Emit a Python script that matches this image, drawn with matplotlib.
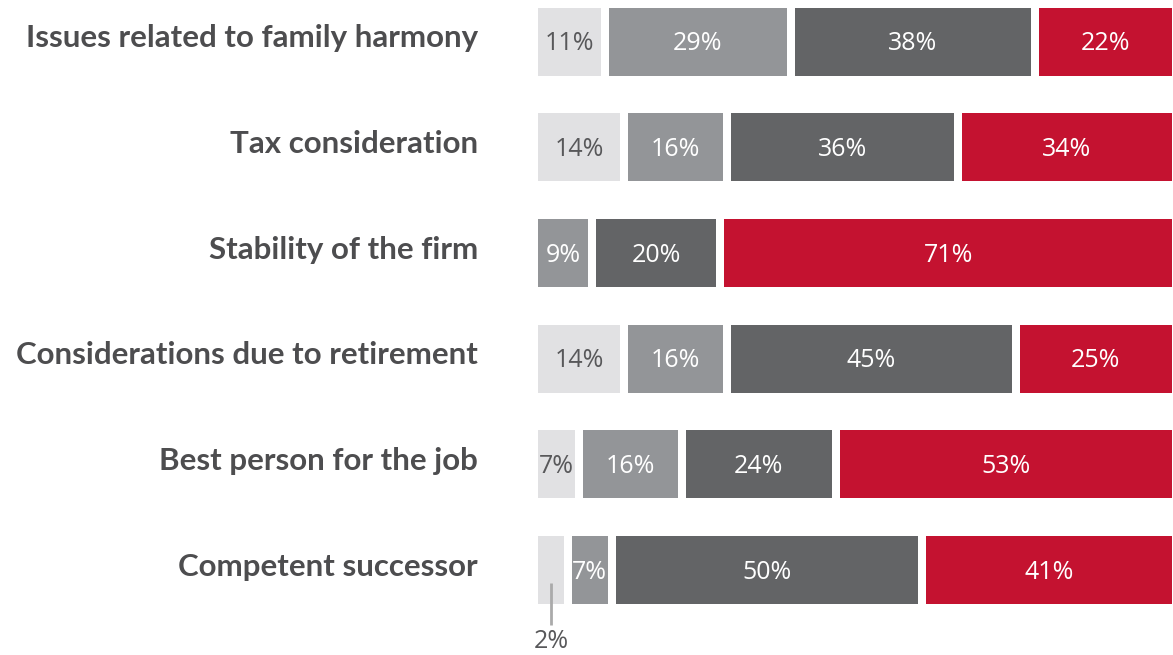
import matplotlib
matplotlib.use("Agg")
import matplotlib.pyplot as plt
from matplotlib.transforms import blended_transform_factory

categories = [
    "Issues related to family harmony",
    "Tax consideration",
    "Stability of the firm",
    "Considerations due to retirement",
    "Best person for the job",
    "Competent successor",
]
seg1 = [11, 14, 0, 14, 7, 2]
seg2 = [29, 16, 9, 16, 16, 7]
seg3 = [38, 36, 20, 45, 24, 50]
seg4 = [22, 34, 71, 25, 53, 41]

colors = ["#e1e1e3", "#939598", "#636466", "#c41230"]
text_colors = ["#58585a", "white", "white", "white"]

W, H = 1173, 655
fig = plt.figure(figsize=(W / 100, H / 100), dpi=100)
left_px, right_px = 538, 1172
ax = fig.add_axes([left_px / W, 0, (right_px - left_px) / W, 1])
px_per_unit = 6.42
gap_px = 8
gap = gap_px / px_per_unit
ax.set_xlim(0, 100 - gap)
step = 105.7
ax.set_ylim((H - 41.5) / step, -41.5 / step)
ax.axis("off")
bar_h = 68 / step
min_disp = 5.5

series = [seg1, seg2, seg3, seg4]
label_font = dict(family=["Open Sans", "DejaVu Sans"], fontsize=18, fontweight="medium")
for i, cat in enumerate(categories):
    vals = [s[i] for s in series]
    disp = [max(v, min_disp) if v > 0 else 0 for v in vals]
    tot = sum(disp)
    disp = [d * 100 / tot for d in disp]
    x = 0
    for j, (v, d) in enumerate(zip(vals, disp)):
        if v <= 0:
            continue
        ax.barh(i, d - gap, left=x, height=bar_h, color=colors[j], edgecolor="none")
        cx = x + (d - gap) / 2
        if v >= 5:
            ax.text(cx, i + 0.02, f"{v}%", ha="center", va="center",
                    color=text_colors[j], **label_font)
        else:
            ax.plot([cx, cx], [i + 0.12, i + 0.52], color="#aaaaaa", lw=2,
                    solid_capstyle="butt")
            ax.text(cx, i + 0.68, f"{v}%", ha="center", va="center",
                    color="#58585a", **label_font)
        x += d

trans = blended_transform_factory(fig.transFigure, ax.transData)
for i, cat in enumerate(categories):
    fig.text(478 / W, i - 0.03, cat, transform=trans, ha="right", va="center",
             fontsize=22.5, fontweight="bold", color="#4d4d4f",
             family=["Lato", "DejaVu Sans"])

fig.savefig("out.png", dpi=100)
